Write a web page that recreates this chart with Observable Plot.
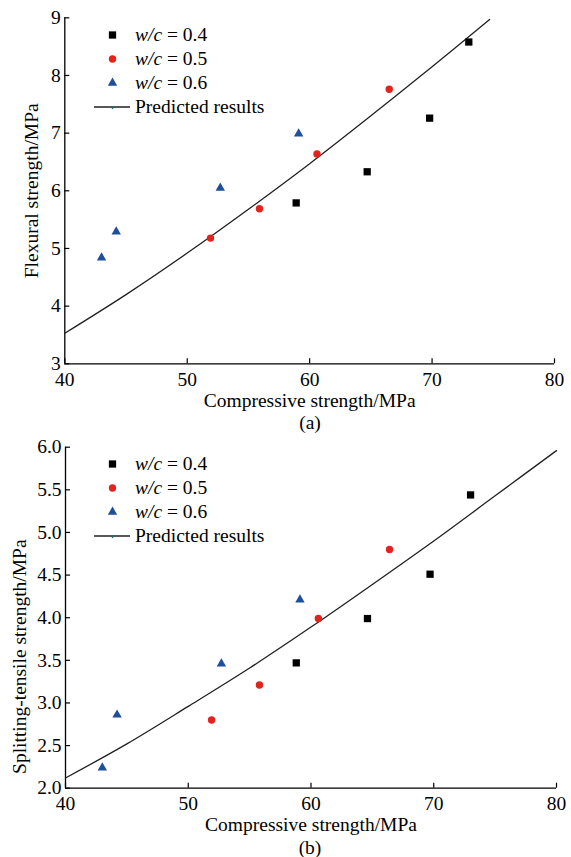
<!DOCTYPE html>
<html><head><meta charset="utf-8">
<script src="https://cdn.jsdelivr.net/npm/d3@7"></script>
<script src="https://cdn.jsdelivr.net/npm/@observablehq/plot@0.6"></script>
<style>
body{margin:0;background:#fff;}
#root{position:relative;width:571px;height:857px;font-family:"Liberation Serif","Times New Roman",serif;color:#000;background:#fff;}
#root svg text{font-family:"Liberation Serif","Times New Roman",serif !important;}
.panel{position:absolute;left:0;}
.cap{position:absolute;left:0;width:100%;text-align:center;font-size:19.5px;line-height:24px;box-sizing:border-box;}
.row{position:absolute;white-space:nowrap;height:24px;line-height:24px;font-size:19.5px;}
.row svg{position:absolute;left:0;top:0;}
.row span{position:absolute;left:41px;top:0;}
</style></head>
<body><div id="root"></div>
<script>
// ---- data ----
const xTicks = [40, 50, 60, 70, 80];
const yTicksA = [3, 4, 5, 6, 7, 8, 9];
const yTicksB = [2.0, 2.5, 3.0, 3.5, 4.0, 4.5, 5.0, 5.5, 6.0];
const seriesNames = ["w/c = 0.4", "w/c = 0.5", "w/c = 0.6"];
const predName = "Predicted results";

// panel (a) flexural strength
const a_x04 = [58.9, 64.7, 69.8, 73.0], a_y04 = [5.79, 6.33, 7.26, 8.58];
const a_x05 = [51.9, 55.9, 60.6, 66.5], a_y05 = [5.18, 5.69, 6.64, 7.76];
const a_x06 = [43.0, 44.2, 52.7, 59.1], a_y06 = [4.84, 5.29, 6.05, 6.99];
const predA_x = [40, 45, 50, 55, 60, 65, 70, 74.7];
const predA_y = [3.53, 4.20, 4.92, 5.68, 6.47, 7.30, 8.15, 8.97];

// panel (b) splitting-tensile strength
const b_x04 = [58.8, 64.6, 69.7, 73.0], b_y04 = [3.47, 3.99, 4.51, 5.44];
const b_x05 = [51.9, 55.8, 60.6, 66.4], b_y05 = [2.80, 3.21, 3.99, 4.80];
const b_x06 = [43.0, 44.2, 52.7, 59.1], b_y06 = [2.24, 2.86, 3.46, 4.21];
const predB_x = [40, 45, 50, 55, 60, 65, 70, 75, 80];
const predB_y = [2.12, 2.52, 2.96, 3.41, 3.89, 4.39, 4.90, 5.43, 5.96];

// ---- styles ----
const colors = ["#000000", "#e3231c", "#1e4e9c"];
const symbols = ["square", "circle", "triangle"];
const radii = [4.1, 3.7, 3.5];
const FS = 19.5;
const FF = "Liberation Serif, Times New Roman, serif";

const zip = (xs, ys) => xs.map((x, i) => ({x, y: ys[i]}));

function panel(opts) {
  const {sets, pred, yTicks, yFmt, yLabel, width, height, mt, mb, ml, mr, yDx, yDy, xDy} = opts;
  const marks = [
    Plot.ruleX([xTicks[0]], {stroke: "#000", strokeWidth: 1.3}),
    Plot.ruleY([yTicks[0]], {stroke: "#000", strokeWidth: 1.3}),
    Plot.axisX({ticks: xTicks, tickSize: -5, tickPadding: 13, label: null, fontSize: FS, fontFamily: FF, tickFormat: d3.format("d"), strokeWidth: 1.2}),
    Plot.axisY({ticks: yTicks, tickSize: -5, tickPadding: 9, label: null, fontSize: FS, fontFamily: FF, tickFormat: yFmt, strokeWidth: 1.2}),
    Plot.line(pred, {x: "x", y: "y", curve: "catmull-rom", stroke: "#231f20", strokeWidth: 1.3}),
    ...sets.map((s, i) => Plot.dot(s, {x: "x", y: "y", symbol: symbols[i], r: radii[i], fill: colors[i], stroke: "none"})),
    Plot.text([yLabel], {frameAnchor: "left", rotate: -90, textAnchor: "middle", lineAnchor: "middle", dx: yDx, dy: yDy, fontSize: FS, fontFamily: FF, fill: "#000"}),
    Plot.text(["Compressive strength/MPa"], {frameAnchor: "bottom", textAnchor: "middle", lineAnchor: "middle", dy: xDy, fontSize: FS, fontFamily: FF, fill: "#000"})
  ];
  return Plot.plot({
    width, height, marginTop: mt, marginBottom: mb, marginLeft: ml, marginRight: mr,
    x: {domain: [xTicks[0], xTicks[xTicks.length - 1]]},
    y: {domain: [yTicks[0], yTicks[yTicks.length - 1]]},
    style: {fontFamily: FF, fontSize: FS + "px", color: "#000", background: "#fff", overflow: "visible"},
    marks
  });
}

const root = document.getElementById("root");

function addPanel(svg, top) {
  svg.classList.add("panel");
  svg.style.top = top + "px";
  svg.style.position = "absolute";
  root.appendChild(svg);
}

function addLegend(top0) {
  const rowH = 24;
  seriesNames.forEach((name, i) => {
    const row = document.createElement("div");
    row.className = "row";
    row.style.left = "94px";
    row.style.top = (top0 + i * rowH - 12) + "px";
    const sym = d3.symbol(i === 0 ? d3.symbolSquare : i === 1 ? d3.symbolCircle : d3.symbolTriangle, Math.PI * radii[i] * radii[i])();
    const parts = name.split(" = ");
    row.innerHTML = `<svg width="37" height="24"><path d="${sym}" transform="translate(18.5,12)" fill="${colors[i]}"/></svg><span><i>${parts[0]}</i> = ${parts[1]}</span>`;
    root.appendChild(row);
  });
  const row = document.createElement("div");
  row.className = "row";
  row.style.left = "94px";
  row.style.top = (top0 + 3 * rowH - 12) + "px";
  row.innerHTML = `<svg width="37" height="24"><line x1="0" x2="36" y1="12" y2="12" stroke="#231f20" stroke-width="1.3"/><path d="M16.5,11.5 L20.5,11.5 L18.5,14.5 Z" fill="#1a6e70"/></svg><span>${predName}</span>`;
  root.appendChild(row);
}

function addCaption(text, centerY, centerX) {
  const d = document.createElement("div");
  d.className = "cap";
  d.style.top = (centerY - 12) + "px";
  d.style.left = (centerX - 285.5) + "px";
  d.textContent = text;
  root.appendChild(d);
}

const svgA = panel({
  sets: [zip(a_x04, a_y04), zip(a_x05, a_y05), zip(a_x06, a_y06)],
  pred: zip(predA_x, predA_y), yTicks: yTicksA, yFmt: d3.format("d"),
  yLabel: "Flexural strength/MPa",
  width: 571, height: 420, mt: 17.3, mb: 56.7, ml: 64.3, mr: 17,
  yDx: -33, yDy: 0, xDy: 36.7
});
addPanel(svgA, 0);

const svgB = panel({
  sets: [zip(b_x04, b_y04), zip(b_x05, b_y05), zip(b_x06, b_y06)],
  pred: zip(predB_x, predB_y), yTicks: yTicksB, yFmt: d3.format(".1f"),
  yLabel: "Splitting-tensile strength/MPa",
  width: 571, height: 427, mt: 16.7, mb: 69.3, ml: 65, mr: 15,
  yDx: -45.5, yDy: 39, xDy: 36.3
});
addPanel(svgB, 430);

addLegend(35);
addLegend(464);
addCaption("(a)", 423, 310);
addCaption("(b)", 848, 310);
</script>
</body></html>
